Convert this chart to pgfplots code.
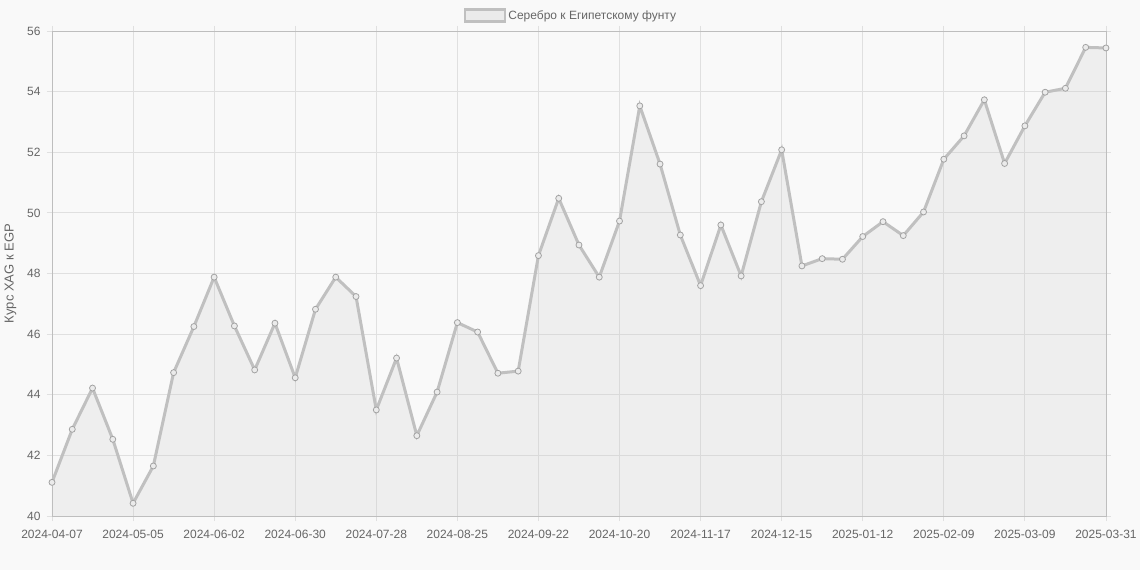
\documentclass[border=0pt]{standalone}
\usepackage{fontspec}
\setmainfont{Liberation Sans}
\usepackage{pgfplots}
\pgfplotsset{compat=1.18}
\definecolor{bg}{HTML}{F9F9F9}
\definecolor{ln}{HTML}{C0C0C0}
\definecolor{grd}{HTML}{E0E0E0}
\definecolor{txt}{HTML}{666666}
\begin{document}
\begin{tikzpicture}[x=1pt,y=1pt]
\fill[bg] (-52,-54) rectangle (1088,516);
\begin{axis}[
  at={(0,0)}, anchor=south west,
  scale only axis, width=1054pt, height=485pt,
  xmin=0, xmax=52, ymin=40, ymax=56,
  xtick={0,4,...,52},
  xticklabels={2024-04-07,2024-05-05,2024-06-02,2024-06-30,2024-07-28,2024-08-25,2024-09-22,2024-10-20,2024-11-17,2024-12-15,2025-01-12,2025-02-09,2025-03-09,2025-03-31},
  ytick={40,42,...,56},
  grid=major,
  major grid style={draw=grd, line width=0.8pt},
  axis line style={draw=grd!85!black, line width=0.8pt},
  tick align=outside, major tick length=5pt,
  tick style={draw=grd, line width=0.8pt},
  tick label style={font=\fontsize{12}{14}\selectfont, text=txt},
  xticklabel style={yshift=-6pt},
  yticklabel style={xshift=-3pt},
  /pgf/number format/assume math mode=true,
  ylabel={Курс XAG к EGP},
  ylabel shift=4pt,
  ylabel style={font=\fontsize{13}{15}\selectfont, text=txt},
  legend style={at={(axis description cs:0.5,1)}, anchor=center, xshift=-8pt, yshift=15.5pt,
    draw=none, fill=none, font=\fontsize{12}{14}\selectfont, text=txt, inner sep=0pt},
  legend image code/.code={\draw[ln, line width=2.5pt, fill=ln!25!bg] (0pt,-6pt) rectangle (40pt,6pt);},
]
\addplot[draw=none, fill=ln, fill opacity=0.18, forget plot] coordinates {
(0,41.11)(1,42.86)(2,44.22)(3,42.53)(4,40.42)(5,41.65)(6,44.73)(7,46.25)(8,47.88)(9,46.27)
(10,44.82)(11,46.36)(12,44.56)(13,46.82)(14,47.88)(15,47.24)(16,43.50)(17,45.21)(18,42.65)(19,44.09)
(20,46.38)(21,46.07)(22,44.71)(23,44.78)(24,48.59)(25,50.48)(26,48.94)(27,47.88)(28,49.73)(29,53.53)
(30,51.61)(31,49.27)(32,47.60)(33,49.60)(34,47.92)(35,50.37)(36,52.08)(37,48.25)(38,48.49)(39,48.47)
(40,49.22)(41,49.71)(42,49.25)(43,50.03)(44,51.77)(45,52.54)(46,53.73)(47,51.63)(48,52.87)(49,53.98)
(50,54.11)(51,55.46)(52,55.44)} \closedcycle;
\addplot[ln, line width=3pt, mark=*, mark size=3pt, mark options={fill=ln!25!bg, draw=ln!85!black, line width=0.8pt}] coordinates {
(0,41.11)(1,42.86)(2,44.22)(3,42.53)(4,40.42)(5,41.65)(6,44.73)(7,46.25)(8,47.88)(9,46.27)
(10,44.82)(11,46.36)(12,44.56)(13,46.82)(14,47.88)(15,47.24)(16,43.50)(17,45.21)(18,42.65)(19,44.09)
(20,46.38)(21,46.07)(22,44.71)(23,44.78)(24,48.59)(25,50.48)(26,48.94)(27,47.88)(28,49.73)(29,53.53)
(30,51.61)(31,49.27)(32,47.60)(33,49.60)(34,47.92)(35,50.37)(36,52.08)(37,48.25)(38,48.49)(39,48.47)
(40,49.22)(41,49.71)(42,49.25)(43,50.03)(44,51.77)(45,52.54)(46,53.73)(47,51.63)(48,52.87)(49,53.98)
(50,54.11)(51,55.46)(52,55.44)};
\addlegendentry{Серебро к Египетскому фунту}
\end{axis}
\pgfresetboundingbox
\useasboundingbox (-52,-54) rectangle (1088,516);
\end{tikzpicture}
\end{document}
